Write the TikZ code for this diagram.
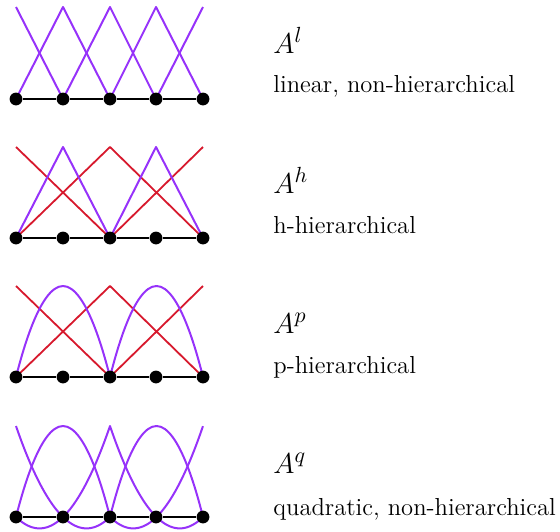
\documentclass[tikz,border=0pt]{standalone}
\definecolor{fpurple}{RGB}{150,50,250}
\definecolor{fred}{RGB}{215,25,45}
\tikzset{
  basis/.style={fpurple, line width=1pt, line join=round},
  coarse/.style={fred, line width=0.9pt, line join=round},
  axis/.style={black, line width=1pt},
  dot/.style={circle, fill=black, inner sep=0pt, minimum size=6.4pt},
  title/.style={anchor=base west, inner sep=0pt, font=\fontsize{15}{17}\selectfont},
  desc/.style={anchor=base west, inner sep=0pt, font=\fontsize{12.3}{14}\selectfont},
}
\begin{document}
\begin{tikzpicture}[x=0.5pt,y=-0.5pt]
\useasboundingbox (0,0) rectangle (560,531);
% ---------- panel 1: linear
\def\Y{99}\def\T{7}
\draw[basis] (16,\T) -- (63,\Y);
\draw[basis] (16,\Y) -- (63,\T) -- (110,\Y);
\draw[basis] (63,\Y) -- (110,\T) -- (156,\Y);
\draw[basis] (110,\Y) -- (156,\T) -- (203,\Y);
\draw[basis] (156,\Y) -- (203,\T);
\node[dot] (a0) at (16,\Y) {};
\node[dot] (a1) at (63,\Y) {};
\node[dot] (a2) at (110,\Y) {};
\node[dot] (a3) at (156,\Y) {};
\node[dot] (a4) at (203,\Y) {};
\draw[axis] (a0) -- (a1) -- (a2) -- (a3) -- (a4);
\node[title] (ta) at (273,53) {$A^l$};
\node[desc] (da) at (273,92) {linear, non-hierarchical};
% ---------- panel 2: h-hierarchical
\def\Y{238}\def\T{147}
\draw[coarse] (16,\T) -- (110,\Y);
\draw[coarse] (16,\Y) -- (110,\T) -- (203,\Y);
\draw[coarse] (110,\Y) -- (203,\T);
\draw[basis] (16,\Y) -- (63,\T) -- (110,\Y);
\draw[basis] (110,\Y) -- (156,\T) -- (203,\Y);
\node[dot] (b0) at (16,\Y) {};
\node[dot] (b1) at (63,\Y) {};
\node[dot] (b2) at (110,\Y) {};
\node[dot] (b3) at (156,\Y) {};
\node[dot] (b4) at (203,\Y) {};
\draw[axis] (b0) -- (b1) -- (b2) -- (b3) -- (b4);
\node[title] (tb) at (273,193) {$A^h$};
\node[desc] (db) at (273,233) {h-hierarchical};
% ---------- panel 3: p-hierarchical
\def\Y{377}\def\T{286}
\draw[coarse] (16,\T) -- (110,\Y);
\draw[coarse] (16,\Y) -- (110,\T) -- (203,\Y);
\draw[coarse] (110,\Y) -- (203,\T);
\draw[basis] (16,\Y) parabola bend (63,\T) (110,\Y);
\draw[basis] (110,\Y) parabola bend (156.5,\T) (203,\Y);
\node[dot] (c0) at (16,\Y) {};
\node[dot] (c1) at (63,\Y) {};
\node[dot] (c2) at (110,\Y) {};
\node[dot] (c3) at (156,\Y) {};
\node[dot] (c4) at (203,\Y) {};
\draw[axis] (c0) -- (c1) -- (c2) -- (c3) -- (c4);
\node[title] (tc) at (273,333) {$A^p$};
\node[desc] (dc) at (273,373) {p-hierarchical};
% ---------- panel 4: quadratic
\def\Y{517}\def\H{91}
\draw[basis] plot[domain=0:1,samples=60,smooth] ({16+94*\x},{\Y-\H*(2*\x*\x-3*\x+1)});
\draw[basis] plot[domain=0:1,samples=60,smooth] ({16+94*\x},{\Y-\H*(2*\x*\x-\x)})
  -- plot[domain=0:1,samples=60,smooth] ({110+93*\x},{\Y-\H*(2*\x*\x-3*\x+1)});
\draw[basis] plot[domain=0:1,samples=60,smooth] ({110+93*\x},{\Y-\H*(2*\x*\x-\x)});
\draw[basis] (16,\Y) parabola bend (63,\Y-\H) (110,\Y);
\draw[basis] (110,\Y) parabola bend (156.5,\Y-\H) (203,\Y);
\node[dot] (e0) at (16,\Y) {};
\node[dot] (e1) at (63,\Y) {};
\node[dot] (e2) at (110,\Y) {};
\node[dot] (e3) at (156,\Y) {};
\node[dot] (e4) at (203,\Y) {};
\draw[axis] (e0) -- (e1) -- (e2) -- (e3) -- (e4);
\node[title] (te) at (273,473) {$A^q$};
\node[desc] (de) at (273,515) {quadratic, non-hierarchical};
\end{tikzpicture}
\end{document}
